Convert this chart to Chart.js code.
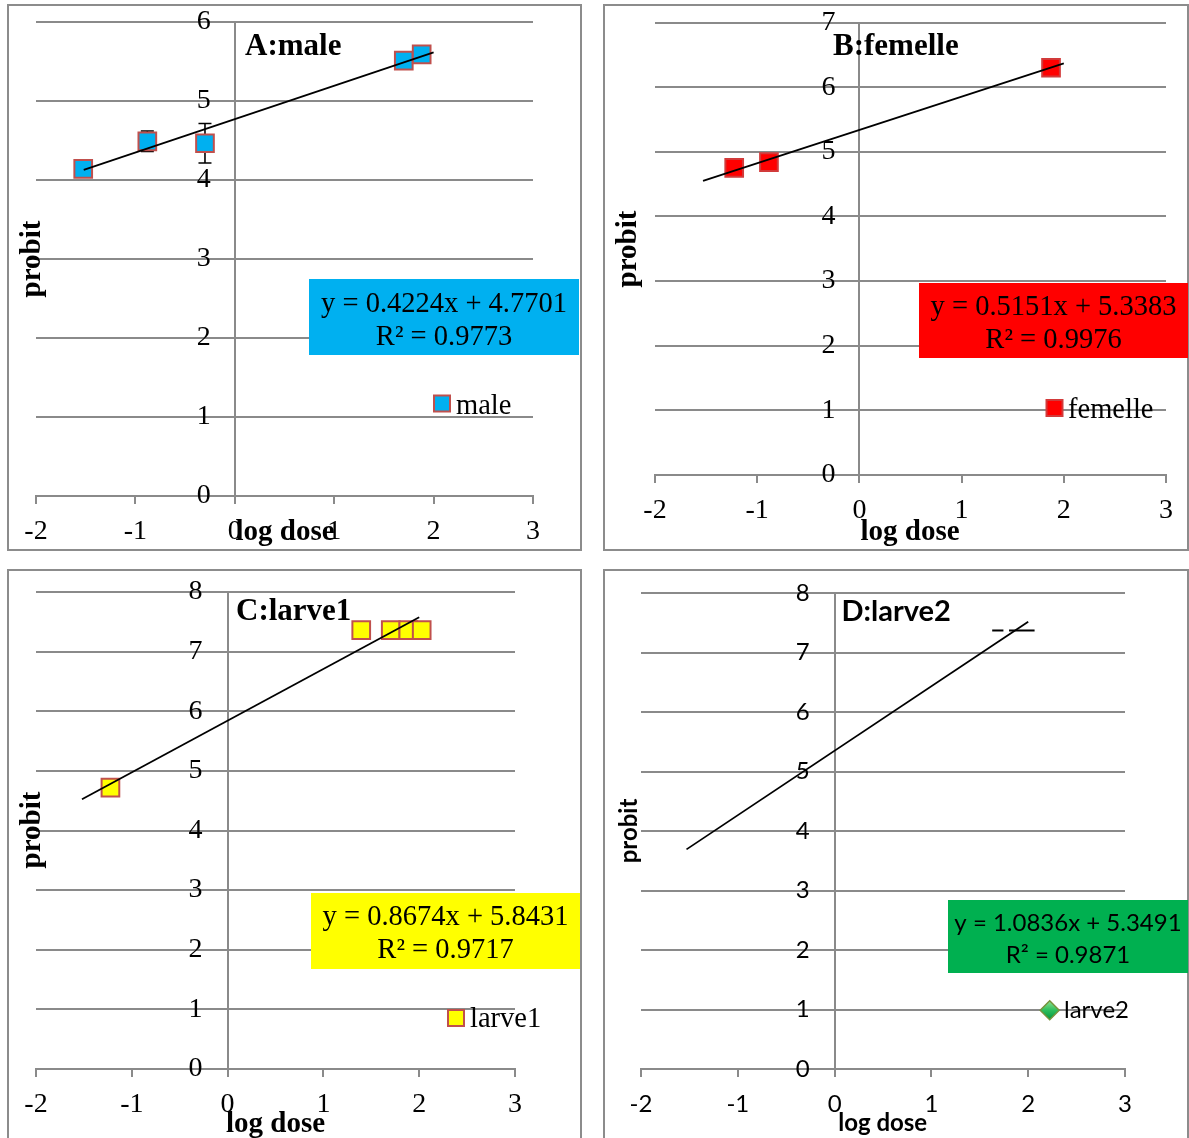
<!DOCTYPE html>
<html lang="fr">
<head>
<meta charset="utf-8">
<title>Droites probit – log dose</title>
<script src="https://cdn.jsdelivr.net/npm/chart.js@4.4.1/dist/chart.umd.min.js"></script>
<style>
  html, body { margin: 0; padding: 0; background: #fff; }
  body { position: relative; width: 1189px; height: 1138px; overflow: hidden; }
  .frame { position: absolute; box-sizing: border-box; border: 2px solid #8c8c8c; background: #fff; }
  canvas { position: absolute; left: 0; top: 0; }
</style>
</head>
<body>
<div class="frame" style="left:7px;top:4px;width:575px;height:547px"></div>
<div class="frame" style="left:603px;top:4px;width:586px;height:547px"></div>
<div class="frame" style="left:7px;top:569px;width:575px;height:600px"></div>
<div class="frame" style="left:603px;top:569px;width:586px;height:600px"></div>
<script>
// ---------- data (log dose vs probit) ----------
const xLimits = [-2, 3];

// A : male
const maleX   = [-1.525, -0.88, -0.30, 1.70, 1.88];
const maleY   = [4.14, 4.49, 4.465, 5.51, 5.59];
const maleErr = [0, 0.13, 0.25, 0, 0];
const maleFit = [0.4224, 4.7701];        // slope, intercept
const maleR2  = 0.9773;
const maleFitX = [-1.52, 2.0];

// B : femelle
const femelleX   = [-1.225, -0.885, 1.875];
const femelleY   = [4.75, 4.84, 6.30];
const femelleFit = [0.5151, 5.3383];
const femelleR2  = 0.9976;
const femelleFitX = [-1.53, 2.0];

// C : larve1
const larve1X   = [-1.223, 1.395, 1.703, 1.886, 2.026];
const larve1Y   = [4.72, 7.36, 7.36, 7.36, 7.36];
const larve1Fit = [0.8674, 5.8431];
const larve1R2  = 0.9717;
const larve1FitX = [-1.52, 2.0];

// D : larve2 (markers hidden, only horizontal error bars show)
const larve2X    = [1.686, 1.934];
const larve2Y    = [7.37, 7.37];
const larve2XErr = [0.058, 0.132];
const larve2Fit  = [1.0836, 5.3491];
const larve2R2   = 0.9871;
const larve2FitX = [-1.53, 2.0];

const yMaxima = [6, 7, 8, 8];

// ---------- presentation ----------
const W = 1189, H = 1138;
const SERIF = "'Liberation Serif', 'Times New Roman', serif";
const SANS  = "Lato, 'Noto Sans', sans-serif";
const GRID  = '#8a8a8a';
const CLEAR = 'rgba(0,0,0,0)';

const panels = [
  { name: 'male', title: 'A:male', x: maleX, y: maleY, yErr: maleErr,
    fit: maleFit, fitX: maleFitX, r2: maleR2, yMax: yMaxima[0],
    marker: { style: 'rect', r: 12.5, fill: '#00B0F0', stroke: '#C0504D' },
    look: { family: SERIF, tick: 28, eq: 28.5, legend: 28, axisTitle: 29, titleSize: 31,
      area: [36, 22, 533, 496], xTickPad: 12, yLabelGap: 24,
      titlePos: [245, 55], probit: [33, 259], logdose: [285, 540],
      eqBox: [309, 279, 579, 355], eqBase: [311.5, 344.5], eqBg: '#00B0F0',
      legend: { kind: 'rect', mx: 442, my: 403.5, size: 16, tx: 456, ty: 414 } } },
  { name: 'femelle', title: 'B:femelle', x: femelleX, y: femelleY,
    fit: femelleFit, fitX: femelleFitX, r2: femelleR2, yMax: yMaxima[1],
    marker: { style: 'rect', r: 12.5, fill: '#FF0000', stroke: '#D23A3A' },
    look: { family: SERIF, tick: 28, eq: 28.5, legend: 28, axisTitle: 29, titleSize: 31,
      area: [655, 22.5, 1166, 475], xTickPad: 12, yLabelGap: 24,
      titlePos: [833, 55], probit: [629, 249], logdose: [910, 540],
      eqBox: [919, 283, 1188, 358], eqBase: [315, 348], eqBg: '#FF0000',
      legend: { kind: 'rect', mx: 1054.5, my: 408, size: 16, tx: 1068, ty: 418 } } },
  { name: 'larve1', title: 'C:larve1', x: larve1X, y: larve1Y,
    fit: larve1Fit, fitX: larve1FitX, r2: larve1R2, yMax: yMaxima[2],
    marker: { style: 'rect', r: 12.5, fill: '#FFFF00', stroke: '#C0504D' },
    look: { family: SERIF, tick: 28, eq: 28.5, legend: 28, axisTitle: 29, titleSize: 31,
      area: [36, 592, 515, 1069], xTickPad: 12, yLabelGap: 25,
      titlePos: [236, 620], probit: [33, 830], logdose: [275.5, 1132],
      eqBox: [311, 893, 580, 969], eqBase: [925, 958], eqBg: '#FFFF00',
      legend: { kind: 'rect', mx: 456, my: 1018, size: 16, tx: 470, ty: 1027 } } },
  { name: 'larve2', title: 'D:larve2', x: larve2X, y: larve2Y, xErr: larve2XErr,
    fit: larve2Fit, fitX: larve2FitX, r2: larve2R2, yMax: yMaxima[3],
    marker: { style: 'rectRot', r: 0, fill: '#00B050', stroke: '#77933C' },
    look: { family: SANS, tick: 24, eq: 24, legend: 24, axisTitle: 24, titleSize: 29,
      area: [641, 593, 1125, 1069], xTickPad: 14, yLabelGap: 25,
      titlePos: [841.5, 620.5], probit: [629, 831], logdose: [882.7, 1131],
      eqBox: [948, 900, 1188, 973], eqBase: [930.5, 963], eqBg: '#00B050',
      legend: { kind: 'diamond', mx: 1049.7, my: 1010.3, size: 19, tx: 1064, ty: 1018 } } }
];

function fitLine(fit, xs) { return xs.map(x => ({ x, y: fit[0] * x + fit[1] })); }
function points(xs, ys) { return xs.map((x, i) => ({ x, y: ys[i] })); }
function equationText(fit) { return 'y = ' + fit[0].toFixed(4) + 'x + ' + fit[1].toFixed(4); }
function r2Text(r2) { return 'R\u00B2 = ' + r2.toFixed(4); }

function makeOverlay(p) {
  const L = p.look;
  return {
    id: 'overlay',
    // error bars sit underneath the markers
    beforeDatasetsDraw(chart) {
      const ctx = chart.ctx, xs = chart.scales.x, ys = chart.scales.y;
      ctx.save();
      ctx.strokeStyle = '#000';
      if (p.yErr) {
        ctx.lineWidth = 1.6;
        p.x.forEach((xv, i) => {
          const e = p.yErr[i];
          if (!e) return;
          const px = xs.getPixelForValue(xv);
          const top = ys.getPixelForValue(p.y[i] + e);
          const bot = ys.getPixelForValue(p.y[i] - e);
          ctx.beginPath();
          ctx.moveTo(px, top); ctx.lineTo(px, bot);
          ctx.moveTo(px - 6.5, top); ctx.lineTo(px + 6.5, top);
          ctx.moveTo(px - 6.5, bot); ctx.lineTo(px + 6.5, bot);
          ctx.stroke();
        });
      }
      if (p.xErr) {
        ctx.lineWidth = 2;
        p.x.forEach((xv, i) => {
          const e = p.xErr[i];
          const py = ys.getPixelForValue(p.y[i]);
          ctx.beginPath();
          ctx.moveTo(xs.getPixelForValue(xv - e), py);
          ctx.lineTo(xs.getPixelForValue(xv + e), py);
          ctx.stroke();
        });
      }
      ctx.restore();
    },
    afterDraw(chart) {
      const ctx = chart.ctx;
      ctx.save();
      ctx.fillStyle = '#000';
      ctx.textBaseline = 'alphabetic';

      // panel title
      ctx.font = 'bold ' + L.titleSize + 'px ' + L.family;
      ctx.textAlign = 'left';
      ctx.fillText(p.title, L.titlePos[0], L.titlePos[1]);

      // axis titles
      ctx.font = 'bold ' + L.axisTitle + 'px ' + L.family;
      ctx.textAlign = 'center';
      ctx.fillText('log dose', L.logdose[0], L.logdose[1]);
      ctx.save();
      ctx.translate(L.probit[0], L.probit[1]);
      ctx.rotate(-Math.PI / 2);
      ctx.textBaseline = 'middle';
      ctx.fillText('probit', 0, 0);
      ctx.restore();

      // regression box
      const b = L.eqBox;
      ctx.fillStyle = L.eqBg;
      ctx.fillRect(b[0], b[1], b[2] - b[0], b[3] - b[1]);
      ctx.fillStyle = '#000';
      ctx.font = L.eq + 'px ' + L.family;
      ctx.textAlign = 'center';
      const cx = (b[0] + b[2]) / 2;
      ctx.fillText(equationText(p.fit), cx, L.eqBase[0]);
      ctx.fillText(r2Text(p.r2), cx, L.eqBase[1]);

      // legend entry
      const g = L.legend, s = g.size;
      if (g.kind === 'rect') {
        ctx.fillStyle = p.marker.fill;
        ctx.fillRect(g.mx - s / 2, g.my - s / 2, s, s);
        ctx.strokeStyle = p.marker.stroke;
        ctx.lineWidth = 2;
        ctx.strokeRect(g.mx - s / 2, g.my - s / 2, s, s);
      } else {
        const grad = ctx.createLinearGradient(g.mx, g.my - s / 2, g.mx, g.my + s / 2);
        grad.addColorStop(0, '#8FE08F');
        grad.addColorStop(0.5, '#2DBE5C');
        grad.addColorStop(1, '#00963E');
        ctx.beginPath();
        ctx.moveTo(g.mx, g.my - s / 2);
        ctx.lineTo(g.mx + s / 2, g.my);
        ctx.lineTo(g.mx, g.my + s / 2);
        ctx.lineTo(g.mx - s / 2, g.my);
        ctx.closePath();
        ctx.fillStyle = grad;
        ctx.fill();
        ctx.strokeStyle = p.marker.stroke;
        ctx.lineWidth = 1.5;
        ctx.stroke();
      }
      ctx.fillStyle = '#000';
      ctx.font = L.legend + 'px ' + L.family;
      ctx.textAlign = 'left';
      ctx.fillText(p.name, g.tx, g.ty);
      ctx.restore();
    }
  };
}

function makeChart(p) {
  const L = p.look;
  const canvas = document.createElement('canvas');
  canvas.width = W; canvas.height = H;
  canvas.style.width = W + 'px'; canvas.style.height = H + 'px';
  document.body.appendChild(canvas);
  const tickFont = { family: L.family, size: L.tick, weight: 'normal' };
  // the value axis labels sit a little to the left of the x = 0 line
  const pxPerUnit = (L.area[2] - L.area[0]) / (xLimits[1] - xLimits[0]);
  const yAxisAt = -L.yLabelGap / pxPerUnit;

  new Chart(canvas, {
    type: 'scatter',
    data: {
      datasets: [
        { label: 'fit', data: fitLine(p.fit, p.fitX), showLine: true,
          borderColor: '#000', borderWidth: 1.8, pointRadius: 0, fill: false },
        { label: p.name, data: points(p.x, p.y), showLine: false,
          pointStyle: p.marker.style, pointRadius: p.marker.r,
          backgroundColor: p.marker.fill, borderColor: p.marker.stroke, borderWidth: 2 }
      ]
    },
    options: {
      responsive: false, animation: false, devicePixelRatio: 1, events: [],
      layout: { padding: { left: L.area[0], top: L.area[1], right: W - L.area[2], bottom: H - L.area[3] } },
      plugins: { legend: { display: false }, tooltip: { enabled: false }, title: { display: false } },
      scales: {
        x: {
          type: 'linear', min: xLimits[0], max: xLimits[1], position: { y: 0 },
          ticks: { stepSize: 1, font: tickFont, color: '#000', padding: L.xTickPad, autoSkip: false, maxRotation: 0 },
          grid: {
            drawOnChartArea: true, drawTicks: true, tickLength: 7, lineWidth: 2,
            color: c => (c.tick && c.tick.value === 0 ? GRID : CLEAR),
            tickColor: GRID
          },
          border: { display: true, color: GRID, width: 2 }
        },
        y: {
          type: 'linear', min: 0, max: p.yMax, position: { x: yAxisAt },
          ticks: { stepSize: 1, font: tickFont, color: '#000', padding: 0, autoSkip: false },
          grid: { drawTicks: false, color: GRID, lineWidth: 2 },
          border: { display: false }
        }
      }
    },
    plugins: [makeOverlay(p)]
  });
}

panels.forEach(makeChart);
</script>
</body>
</html>
